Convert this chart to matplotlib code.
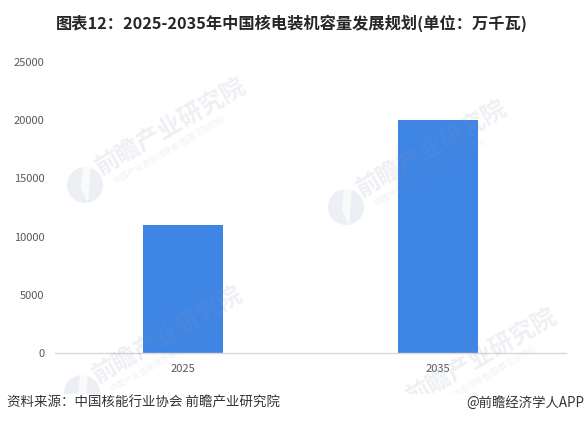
import matplotlib
matplotlib.use("Agg")
from matplotlib import pyplot as plt
from matplotlib.patches import Circle, Rectangle, Polygon

plt.rcParams['font.family'] = ['Noto Sans CJK SC', 'DejaVu Sans']

# 数据
years = ['2025', '2035']
capacity = [11000, 20000]
y_ticks = [0, 5000, 10000, 15000, 20000, 25000]

W, H = 585, 424
fig = plt.figure(figsize=(W / 100, H / 100), dpi=100, facecolor='white')

# 主图区域，按像素位置换算
left, right, top, bottom = 55, 566, 62, 353
ax = fig.add_axes([left / W, 1 - bottom / H, (right - left) / W, (bottom - top) / H])
ax.bar(range(len(years)), capacity, width=0.315, color='#3f85e4', zorder=2)
ax.set_xlim(-0.5, 1.5)
ax.set_ylim(0, 25000)
ax.set_xticks(range(len(years)))
ax.set_xticklabels(years)
ax.set_yticks(y_ticks)
ax.tick_params(axis='both', length=0, labelsize=8, labelcolor='#595959')
ax.tick_params(axis='x', pad=8)
ax.tick_params(axis='y', pad=7.5)
for name in ['top', 'left', 'right']:
    ax.spines[name].set_visible(False)
ax.spines['bottom'].set_color('#d9d9d9')
ax.spines['bottom'].set_linewidth(1.0)

# 水印层，像素坐标
wm = fig.add_axes([0, 0, 1, 1], facecolor='none')
wm.set_xlim(0, W)
wm.set_ylim(H, 0)
wm.axis('off')
wm_color = '#8496b4'


def watermark(x, y):
    wm.add_patch(Circle((x, y), 18, color=wm_color, alpha=0.15, lw=0, zorder=3))
    wm.add_patch(Polygon([(x - 2, y - 19), (x + 6, y - 19), (x + 3, y + 18), (x - 4, y + 3)],
                         closed=True, color='white', alpha=0.75, lw=0, zorder=3))
    wm.text(x + 12, y - 16, '前瞻产业研究院', color=wm_color, alpha=0.14, fontsize=17.5, fontweight='bold',
            rotation=30, rotation_mode='anchor', ha='left', va='center', zorder=3)
    wm.text(x + 29, y - 3, '中国产业咨询领导者(股票:839599)', color=wm_color, alpha=0.13, fontsize=6,
            rotation=30, rotation_mode='anchor', ha='left', va='center', zorder=3)


watermark(85, 185)
watermark(346, 207)
watermark(82, 393)
watermark(396, 415)

# 底部白条盖住水印
wm.add_patch(Rectangle((0, 394), W, 30, color='white', lw=0, zorder=4))

wm.text(292, 23, '图表12：2025-2035年中国核电装机容量发展规划(单位：万千瓦)', fontsize=11.7, fontweight='bold',
        color='#262626', ha='center', va='center', zorder=5)
wm.text(7, 403, '资料来源：中国核能行业协会 前瞻产业研究院', fontsize=9.7, color='#333333',
        ha='left', va='center', zorder=5)
wm.text(584, 403, '@前瞻经济学人APP', fontsize=9.6, color='#333333',
        ha='right', va='center', zorder=5)

fig.savefig('out.png', dpi=100)
